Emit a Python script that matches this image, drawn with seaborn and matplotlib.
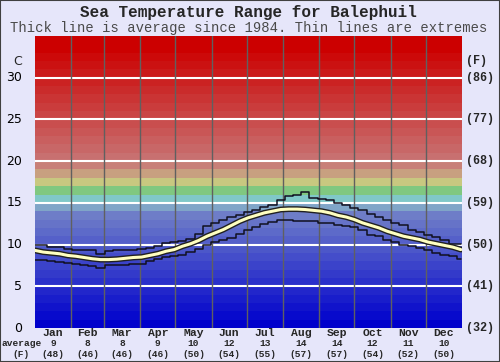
import numpy as np
import pandas as pd
import matplotlib
matplotlib.use("Agg")
import matplotlib.pyplot as plt
import seaborn as sns

# ---------------- data ----------------
day = list(range(0, 365, 7))  # weekly samples, day of year

t_max = [10.0, 10.0, 9.7, 9.7, 9.5, 9.4, 9.3, 9.3, 8.9, 9.2, 9.3, 9.4, 9.4, 9.5,
         9.6, 9.8, 10.2, 10.3, 10.4, 10.7, 11.3, 12.2, 12.6, 13.0, 13.3, 13.5,
         13.9, 14.2, 14.5, 14.8, 15.3, 15.8, 16.0, 16.3, 15.6, 15.5, 15.3, 15.0,
         14.8, 14.4, 14.1, 13.7, 13.3, 13.0, 12.6, 12.3, 11.8, 11.5, 11.1, 10.9,
         10.6, 10.1, 10.1]
t_avg = [9.3, 9.1, 9.0, 8.9, 8.7, 8.6, 8.45, 8.3, 8.2, 8.2, 8.25, 8.35, 8.45,
         8.5, 8.7, 8.9, 9.2, 9.4, 9.8, 10.1, 10.5, 11.0, 11.4, 11.8, 12.3, 12.8,
         13.2, 13.5, 13.8, 14.0, 14.2, 14.25, 14.25, 14.2, 14.1, 14.0, 13.8, 13.5,
         13.3, 13.0, 12.6, 12.3, 12.0, 11.6, 11.3, 11.0, 10.8, 10.6, 10.3, 10.1,
         9.9, 9.7, 9.4]
t_min = [8.2, 8.1, 8.0, 7.9, 7.8, 7.7, 7.5, 7.4, 7.25, 7.5, 7.5, 7.6, 7.7, 7.7,
         8.0, 8.3, 8.5, 8.6, 8.8, 9.1, 9.5, 10.0, 10.3, 10.6, 10.8, 11.3, 11.7,
         12.1, 12.5, 12.7, 12.9, 12.9, 12.8, 12.8, 12.8, 12.6, 12.6, 12.4, 12.2,
         12.1, 11.8, 11.2, 11.0, 10.6, 10.3, 10.0, 9.8, 9.6, 9.3, 9.0, 8.8, 8.6,
         8.3]

months = ["Jan", "Feb", "Mar", "Apr", "May", "Jun", "Jul", "Aug", "Sep", "Oct", "Nov", "Dec"]
month_days = [31, 28, 31, 30, 31, 30, 31, 31, 30, 31, 30, 31]
month_avg_c = [9, 8, 8, 9, 10, 12, 13, 14, 14, 12, 11, 10]
month_avg_f = [48, 46, 46, 46, 50, 54, 55, 57, 57, 54, 52, 50]

c_ticks = [0, 5, 10, 15, 20, 25, 30]
f_labels = ["(32)", "(41)", "(50)", "(59)", "(68)", "(77)", "(86)"]

title = "Sea Temperature Range for Balephuil"
subtitle = "Thick line is average since 1984. Thin lines are extremes"

df = pd.DataFrame({"day": day, "max": t_max, "avg": t_avg, "min": t_min})

# ---------------- figure ----------------
sns.set_style("white")
plt.rcParams["font.family"] = ["DejaVu Sans"]
bg = "#E6E6FA"
W, H = 500, 362
fig = plt.figure(figsize=(W / 100, H / 100), dpi=100, facecolor=bg)
ax = fig.add_axes([35 / W, 34 / H, 427 / W, 292 / H])
ax.set_facecolor(bg)

ymax = 35
xmax = 365


def lerp(c0, c1, f):
    return tuple((a + (b - a) * f) / 255 for a, b in zip(c0, c1))


fixed = {14: (128, 165, 200), 15: (128, 200, 200), 16: (128, 200, 128),
         17: (200, 200, 128), 18: (200, 160, 128), 19: (200, 128, 120)}
for t in range(ymax):
    if t < 14:
        col = lerp((0, 0, 204), (110, 125, 200), t / 13)
    elif t in fixed:
        col = tuple(v / 255 for v in fixed[t])
    else:
        col = lerp((200, 112, 112), (204, 0, 0), min((t - 20) / 13, 1))
    ax.axhspan(t, t + 1, color=col, lw=0, zorder=0)

for c in c_ticks[1:]:
    ax.axhline(c, color="white", lw=1.5, zorder=1)

bounds = np.cumsum([0] + month_days)
for b in bounds[1:-1]:
    ax.axvline(b, color="#606060", lw=1.0, zorder=1)

sns.lineplot(data=df, x="day", y="max", ax=ax, color="#101020", lw=1.1,
             drawstyle="steps-mid", zorder=3)
sns.lineplot(data=df, x="day", y="min", ax=ax, color="#101020", lw=1.1,
             drawstyle="steps-mid", zorder=3)
sns.lineplot(data=df, x="day", y="avg", ax=ax, color="#202020", lw=4.2, zorder=4)
sns.lineplot(data=df, x="day", y="avg", ax=ax, color="#FFFFC0", lw=2.2, zorder=5)

ax.set_xlim(0, xmax)
ax.set_ylim(0, ymax)
ax.set_xticks([])
ax.set_yticks([])
ax.set_xlabel("")
ax.set_ylabel("")
for s in ax.spines.values():
    s.set_visible(False)

# left C labels
for c in c_ticks:
    ax.text(-11, c, str(c), ha="right", va="center",
            fontsize=9, color="black", clip_on=False)
ax.text(-11, 32, "C", ha="right", va="center", fontsize=9, clip_on=False)

mono = ["Liberation Mono", "DejaVu Sans Mono"]
for c, lab in zip(c_ticks, f_labels):
    ax.text(xmax + 3, c, lab, ha="left", va="center", fontsize=8.5,
            family=mono, weight="bold", clip_on=False)
ax.text(xmax + 3, 32, "(F)", ha="left", va="center", fontsize=8.5,
        family=mono, weight="bold", clip_on=False)

# month labels (positions in figure pixels)
centers = (bounds[:-1] + bounds[1:]) / 2
for m, cx, ac, af in zip(months, centers, month_avg_c, month_avg_f):
    fx = (35 + cx / xmax * 427) / W
    fig.text(fx, 1 - 333 / H, m, ha="center", va="center", fontsize=8.2,
             family=mono, weight="bold")
    fig.text(fx, 1 - 344 / H, str(ac), ha="center", va="center", fontsize=6.8,
             family=mono, weight="bold")
    fig.text(fx, 1 - 354.5 / H, f"({af})", ha="center", va="center", fontsize=6.8,
             family=mono, weight="bold")
fig.text(2 / W, 1 - 344 / H, "average", ha="left", va="center", fontsize=6.8,
         family=mono, weight="bold")
fig.text(21 / W, 1 - 354.5 / H, "(F)", ha="center", va="center", fontsize=6.8,
         family=mono, weight="bold")

fig.text(248 / W, 1 - 13 / H, title, ha="center", va="center", fontsize=11.5,
         family=mono, weight="bold")
fig.text(249 / W, 1 - 28 / H, subtitle, ha="center", va="center", fontsize=10,
         family=mono, color="#4a4a4a")

fig.patches.append(plt.Rectangle((0, 0), 1, 1, transform=fig.transFigure,
                                 fill=False, edgecolor="#404040", lw=1.5))

fig.savefig("out.png", dpi=100, facecolor=bg)
